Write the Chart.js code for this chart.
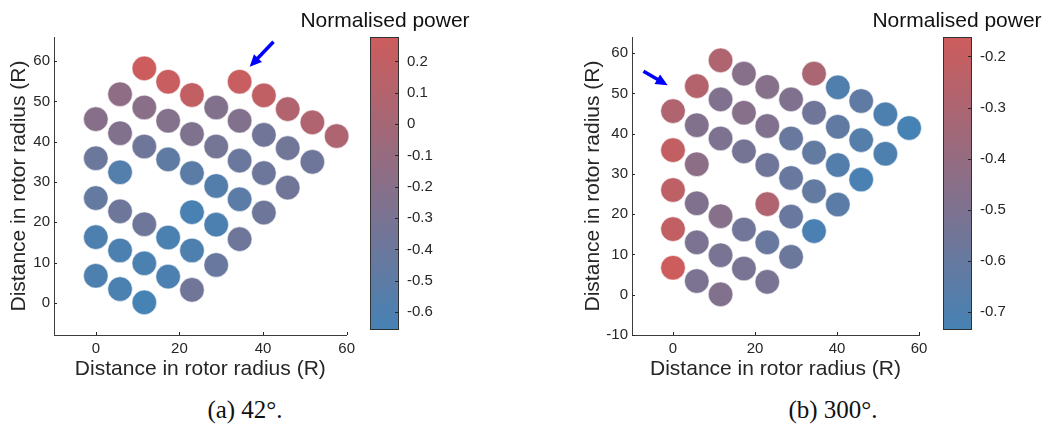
<!DOCTYPE html>
<html>
<head>
<meta charset="utf-8">
<script src="https://cdn.jsdelivr.net/npm/chart.js@4/dist/chart.umd.min.js"></script>
<style>
  html, body { margin: 0; padding: 0; background: #ffffff; }
  body { width: 1047px; height: 427px; position: relative; overflow: hidden; }
  canvas { position: absolute; }
  .cbtitle { position: absolute; width: 240px; text-align: center; font: 21px "Liberation Sans", Arial, Helvetica, sans-serif; line-height: 21px; color: #111; white-space: nowrap; }
  .caption { position: absolute; width: 240px; text-align: center; font: 25px "Liberation Serif", "DejaVu Serif", serif; line-height: 25px; color: #111; white-space: nowrap; }
</style>
</head>
<body>
<canvas id="plotA" width="360" height="390" style="left:0px;top:0px"></canvas>
<canvas id="barA" width="100" height="390" style="left:360px;top:0px"></canvas>
<canvas id="plotB" width="380" height="390" style="left:560px;top:0px"></canvas>
<canvas id="barB" width="100" height="390" style="left:933px;top:0px"></canvas>
<div class="cbtitle" style="left:265px;top:9px">Normalised power</div>
<div class="cbtitle" style="left:837px;top:9px">Normalised power</div>
<div class="caption" style="left:125px;top:397px">(a) 42°.</div>
<div class="caption" style="left:713px;top:397px">(b) 300°.</div>
<script>
// Turbine positions (rotor radii)
const turbineX = [
  0, 0, 0, 0, 0,
  5.8, 5.8, 5.8, 5.8, 5.8, 5.8,
  11.6, 11.6, 11.6, 11.6, 11.6, 11.6,
  17.3, 17.3, 17.3, 17.3, 17.3,
  23.0, 23.0, 23.0, 23.0, 23.0, 23.0,
  28.8, 28.8, 28.8, 28.8, 28.8,
  34.4, 34.4, 34.4, 34.4, 34.4,
  40.2, 40.2, 40.2, 40.2,
  45.9, 45.9, 45.9,
  51.8, 51.8,
  57.6
];
const turbineY = [
  45.6, 35.9, 26.0, 16.3, 6.7,
  51.8, 42.1, 32.4, 22.7, 13.0, 3.4,
  58.2, 48.5, 38.8, 19.5, 9.8, 0.1,
  54.9, 45.2, 35.6, 16.2, 6.5,
  51.6, 41.9, 32.2, 22.5, 13.0, 3.2,
  48.5, 38.8, 29.0, 19.4, 9.4,
  54.9, 45.2, 35.3, 25.7, 15.8,
  51.5, 41.7, 32.2, 22.4,
  48.1, 38.4, 28.6,
  44.8, 35.0,
  41.4
];

// Normalised power per turbine, wind direction 42°
const powerA = [
  -0.20, -0.40, -0.45, -0.60, -0.60,
  -0.15, -0.24, -0.56, -0.38, -0.62, -0.63,
  0.278, -0.19, -0.38, -0.38, -0.63, -0.657,
  0.24, -0.23, -0.48, -0.63, -0.62,
  0.20, -0.26, -0.52, -0.64, -0.60, -0.36,
  -0.24, -0.33, -0.57, -0.62, -0.42,
  0.24, -0.24, -0.41, -0.52, -0.38,
  0.19, -0.36, -0.39, -0.38,
  0.09, -0.35, -0.36,
  0.07, -0.38,
  0.06
];

// Normalised power per turbine, wind direction 300°
const powerB = [
  -0.29, -0.21, -0.23, -0.21, -0.162,
  -0.27, -0.48, -0.44, -0.49, -0.51, -0.51,
  -0.29, -0.49, -0.50, -0.46, -0.52, -0.48,
  -0.46, -0.46, -0.53, -0.55, -0.52,
  -0.46, -0.49, -0.56, -0.29, -0.59, -0.52,
  -0.49, -0.59, -0.59, -0.59, -0.58,
  -0.31, -0.56, -0.61, -0.61, -0.72,
  -0.69, -0.62, -0.68, -0.65,
  -0.63, -0.67, -0.72,
  -0.70, -0.70,
  -0.735
];

// Axis ticks
const xTicks = [0, 20, 40, 60];
const yTicksA = [0, 10, 20, 30, 40, 50, 60];
const yTicksB = [-10, 0, 10, 20, 30, 40, 50, 60];
const cbTicksA = [0.2, 0.1, 0, -0.1, -0.2, -0.3, -0.4, -0.5, -0.6];
const cbTicksB = [-0.2, -0.3, -0.4, -0.5, -0.6, -0.7];

// Wind-direction arrows: [tailX, tailY, tipX, tipY]
const arrowA = [42.5, 64.8, 36.8, 58.6];
const arrowB = [-7.2, 55.5, -1.3, 52.0];

const FONT = '"Liberation Sans", Arial, Helvetica, sans-serif';
const INK = '#262626';
const LOW = [70, 130, 180];
const HIGH = [205, 92, 92];

function mapColour(v, lo, hi) {
  let t = (v - lo) / (hi - lo);
  t = Math.max(0, Math.min(1, t));
  const c = LOW.map((l, i) => Math.round(l + (HIGH[i] - l) * t));
  return `rgb(${c[0]},${c[1]},${c[2]})`;
}

function fixTicks(list) {
  return (scale) => { scale.ticks = list.map(v => ({ value: v })); };
}

// Inward tick marks along the left and bottom axes
const inwardTicks = {
  id: 'inwardTicks',
  afterDraw(chart) {
    const { ctx, chartArea: a, scales } = chart;
    ctx.save();
    ctx.strokeStyle = INK;
    ctx.lineWidth = 1;
    ctx.beginPath();
    scales.x.ticks.forEach(t => {
      const px = Math.round(scales.x.getPixelForValue(t.value)) + 0.5;
      ctx.moveTo(px, a.bottom);
      ctx.lineTo(px, a.bottom - 3);
    });
    scales.y.ticks.forEach(t => {
      const py = Math.round(scales.y.getPixelForValue(t.value)) + 0.5;
      ctx.moveTo(a.left, py);
      ctx.lineTo(a.left + 3, py);
    });
    ctx.stroke();
    ctx.restore();
  }
};

// Blue arrow showing the wind direction
const windArrow = {
  id: 'windArrow',
  afterDraw(chart, args, opts) {
    const { ctx, scales } = chart;
    const [x0, y0, x1, y1] = opts.coords;
    const ax = scales.x.getPixelForValue(x0), ay = scales.y.getPixelForValue(y0);
    const bx = scales.x.getPixelForValue(x1), by = scales.y.getPixelForValue(y1);
    const ang = Math.atan2(by - ay, bx - ax);
    const headLen = 12, headHalf = 5.5;
    const hx = bx - headLen * Math.cos(ang), hy = by - headLen * Math.sin(ang);
    ctx.save();
    ctx.strokeStyle = '#0000ff';
    ctx.fillStyle = '#0000ff';
    ctx.lineWidth = 3.5;
    ctx.beginPath();
    ctx.moveTo(ax, ay);
    ctx.lineTo(hx + 2 * Math.cos(ang), hy + 2 * Math.sin(ang));
    ctx.stroke();
    ctx.beginPath();
    ctx.moveTo(bx, by);
    ctx.lineTo(hx + headHalf * Math.sin(ang), hy - headHalf * Math.cos(ang));
    ctx.lineTo(hx - headHalf * Math.sin(ang), hy + headHalf * Math.cos(ang));
    ctx.closePath();
    ctx.fill();
    ctx.restore();
  }
};

// Inward tick marks on the colour bar
const barTicks = {
  id: 'barTicks',
  afterDraw(chart) {
    const { ctx, chartArea: a, scales } = chart;
    ctx.save();
    ctx.strokeStyle = INK;
    ctx.lineWidth = 1;
    ctx.beginPath();
    scales.y.ticks.forEach(t => {
      const py = Math.round(scales.y.getPixelForValue(t.value)) + 0.5;
      ctx.moveTo(a.right - 1, py);
      ctx.lineTo(a.right - 4, py);
    });
    ctx.stroke();
    ctx.restore();
  }
};

function scatterChart(id, power, range, yTicks, yMin, yMax, arrow, pad) {
  const pts = turbineX.map((x, i) => ({ x, y: turbineY[i] }));
  const colours = power.map(v => mapColour(v, range[0], range[1]));
  const axisTitle = { display: true, text: 'Distance in rotor radius (R)', color: INK, font: { family: FONT, size: 21 } };
  return new Chart(document.getElementById(id), {
    type: 'scatter',
    data: {
      datasets: [{
        data: pts,
        backgroundColor: colours,
        borderColor: 'rgba(255,255,255,0.55)',
        borderWidth: 1,
        pointRadius: 12.3,
        pointHoverRadius: 12.3,
        clip: false
      }]
    },
    options: {
      responsive: false,
      animation: false,
      events: [],
      layout: { padding: pad.layout },
      plugins: { legend: { display: false }, tooltip: { enabled: false }, windArrow: { coords: arrow } },
      scales: {
        x: {
          type: 'linear', min: -10, max: 60,
          afterBuildTicks: fixTicks(xTicks),
          afterFit: s => { s.height = 55; },
          grid: { display: false, drawTicks: false },
          border: { display: true, color: '#3c3c3c', width: 1 },
          ticks: { padding: 5, color: INK, font: { family: FONT, size: 15 } },
          title: Object.assign({ padding: { top: 0, bottom: 8 } }, axisTitle)
        },
        y: {
          type: 'linear', min: yMin, max: yMax,
          afterBuildTicks: fixTicks(yTicks),
          afterFit: s => { s.width = pad.yWidth; },
          grid: { display: false, drawTicks: false },
          border: { display: true, color: '#3c3c3c', width: 1 },
          ticks: { padding: 4, color: INK, font: { family: FONT, size: 15 } },
          title: Object.assign({ padding: { top: 7, bottom: 0 } }, axisTitle)
        }
      }
    },
    plugins: [inwardTicks, windArrow]
  });
}

function colourBar(id, range, ticks) {
  return new Chart(document.getElementById(id), {
    type: 'bar',
    data: {
      labels: [''],
      datasets: [{
        data: [[range[0], range[1]]],
        backgroundColor: (c) => {
          const { ctx, chartArea } = c.chart;
          if (!chartArea) return 'rgb(137,111,136)';
          const g = ctx.createLinearGradient(0, chartArea.bottom, 0, chartArea.top);
          g.addColorStop(0, `rgb(${LOW.join(',')})`);
          g.addColorStop(1, `rgb(${HIGH.join(',')})`);
          return g;
        },
        borderColor: '#303030',
        borderWidth: 1.3,
        borderSkipped: false,
        barPercentage: 1,
        categoryPercentage: 1
      }]
    },
    options: {
      responsive: false,
      animation: false,
      events: [],
      layout: { padding: { left: 10, top: 37, right: 0, bottom: 60 } },
      plugins: { legend: { display: false }, tooltip: { enabled: false } },
      scales: {
        x: { display: false },
        y: {
          position: 'right', min: range[0], max: range[1],
          afterBuildTicks: fixTicks(ticks),
          afterFit: s => { s.width = 61; },
          grid: { display: false, drawTicks: false },
          border: { display: false },
          ticks: {
            padding: 8, color: INK, font: { family: FONT, size: 15 },
            callback: v => String(Math.round(v * 10) / 10)
          }
        }
      }
    },
    plugins: [barTicks]
  });
}

const rangeA = [-0.657, 0.278];
const rangeB = [-0.735, -0.162];

scatterChart('plotA', powerA, rangeA, yTicksA, -8, 66, arrowA,
  { layout: { left: 0, top: 37, right: 13, bottom: 0 }, yWidth: 54 });
scatterChart('plotB', powerB, rangeB, yTicksB, -10, 64, arrowB,
  { layout: { left: 14, top: 37, right: 21, bottom: 0 }, yWidth: 58 });
colourBar('barA', rangeA, cbTicksA);
colourBar('barB', rangeB, cbTicksB);
</script>
</body>
</html>
